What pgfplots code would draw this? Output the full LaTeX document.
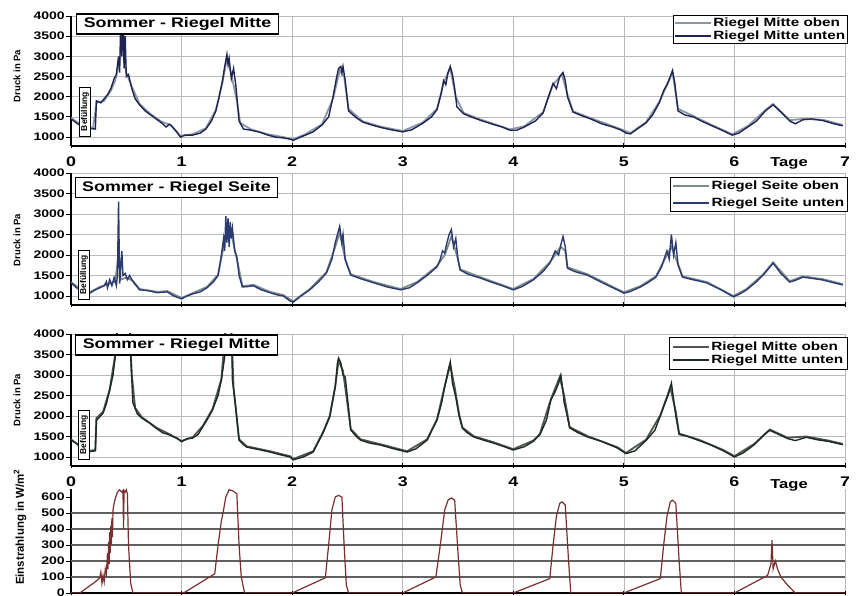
\documentclass[border=0pt]{standalone}
\usepackage{pgfplots}
\pgfplotsset{compat=1.18}
\usepackage{pgfplotstable}
\usepackage{fontspec}
\setmainfont{Liberation Sans}
\usepackage{graphicx}
\newcommand{\sx}[1]{\scalebox{1.28}[1]{#1}}
\definecolor{navy}{HTML}{1F2552}
\definecolor{gblue}{HTML}{8C95A3}
\definecolor{sblue}{HTML}{2B3A70}
\definecolor{sgray}{HTML}{7E8B88}
\definecolor{dgreen}{HTML}{1E2B22}
\definecolor{ggray}{HTML}{4F554F}
\definecolor{rbrown}{HTML}{7A2E2E}

\pgfplotstableread{
x y
0.00 1450
0.05 1350
0.10 1250
0.15 1220
0.22 1200
0.23 1900
0.27 1850
0.30 1950
0.33 2050
0.36 2200
0.39 2450
0.41 2550
0.43 3000
0.44 2600
0.45 3900
0.46 3000
0.47 4000
0.48 2700
0.49 3500
0.50 2500
0.52 2550
0.55 2200
0.58 1950
0.62 1800
0.67 1650
0.72 1550
0.77 1450
0.82 1350
0.86 1250
0.89 1320
0.91 1280
0.95 1150
0.99 1000
1.03 1050
1.10 1050
1.17 1100
1.22 1200
1.27 1400
1.31 1650
1.34 2000
1.37 2400
1.39 2750
1.41 3050
1.42 2800
1.43 2950
1.45 2450
1.47 2700
1.49 2300
1.52 1400
1.56 1200
1.63 1170
1.71 1120
1.78 1050
1.85 1000
1.92 980
1.98 950
2.01 920
2.05 970
2.12 1050
2.19 1130
2.27 1300
2.33 1500
2.37 2000
2.40 2450
2.42 2700
2.44 2750
2.45 2600
2.46 2750
2.48 2400
2.51 1650
2.58 1480
2.64 1370
2.72 1300
2.80 1240
2.90 1180
3.00 1130
3.08 1180
3.18 1340
3.26 1500
3.31 1680
3.35 2100
3.37 2400
3.39 2300
3.41 2600
3.43 2750
3.45 2550
3.47 2200
3.49 1750
3.55 1580
3.62 1500
3.70 1420
3.80 1330
3.90 1250
3.97 1170
4.03 1170
4.10 1250
4.20 1400
4.27 1600
4.33 2100
4.36 2330
4.39 2200
4.42 2500
4.45 2600
4.47 2400
4.49 2000
4.54 1620
4.62 1530
4.70 1450
4.80 1330
4.90 1250
4.97 1180
5.02 1100
5.06 1080
5.12 1200
5.20 1350
5.26 1550
5.32 1850
5.36 2150
5.39 2300
5.42 2500
5.44 2650
5.46 2350
5.49 1650
5.55 1550
5.63 1500
5.70 1400
5.78 1300
5.88 1180
5.98 1050
6.04 1100
6.12 1250
6.20 1400
6.28 1650
6.35 1800
6.42 1620
6.50 1400
6.55 1330
6.62 1430
6.70 1450
6.80 1410
6.90 1330
6.98 1280
}\mitteUntenA

\pgfplotstableread{
x y
0.00 1480
0.10 1280
0.20 1230
0.23 1850
0.30 1900
0.36 2150
0.40 2400
0.44 2900
0.47 3300
0.50 2600
0.55 2250
0.62 1820
0.72 1570
0.82 1380
0.90 1300
0.99 1030
1.10 1070
1.22 1220
1.31 1670
1.37 2350
1.41 2950
1.45 2550
1.50 1900
1.53 1350
1.63 1190
1.78 1070
1.92 1000
2.01 950
2.12 1070
2.27 1320
2.37 1950
2.43 2650
2.47 2500
2.51 1700
2.64 1390
2.80 1260
3.00 1150
3.18 1360
3.31 1700
3.37 2350
3.43 2700
3.48 2000
3.55 1600
3.70 1440
3.97 1190
4.10 1270
4.27 1620
4.36 2300
4.44 2550
4.49 2050
4.54 1640
4.70 1470
4.97 1200
5.06 1100
5.20 1370
5.32 1870
5.40 2350
5.44 2600
5.49 1700
5.63 1520
5.78 1320
5.98 1070
6.12 1270
6.28 1670
6.35 1820
6.50 1420
6.62 1450
6.80 1430
6.98 1300
}\mitteObenA

\pgfplotstableread{
x y
0.00 1320
0.05 1200
0.10 1120
0.17 1070
0.22 1150
0.26 1200
0.30 1250
0.32 1350
0.33 1200
0.35 1400
0.37 1250
0.39 1450
0.41 1250
0.42 1500
0.43 3300
0.44 1300
0.46 2100
0.47 1500
0.49 1550
0.51 1400
0.53 1500
0.56 1350
0.62 1150
0.70 1130
0.78 1080
0.87 1100
0.93 1000
1.00 930
1.05 1000
1.10 1050
1.17 1100
1.23 1200
1.29 1350
1.33 1500
1.36 2000
1.38 2400
1.39 2100
1.40 2950
1.41 2300
1.42 2900
1.43 2200
1.44 2800
1.45 2400
1.46 2650
1.48 2100
1.50 1950
1.52 1500
1.55 1220
1.60 1230
1.65 1250
1.72 1150
1.80 1080
1.86 1030
1.92 1000
1.98 880
2.01 850
2.08 1000
2.16 1150
2.24 1350
2.31 1560
2.36 1900
2.39 2300
2.41 2500
2.43 2700
2.45 2300
2.46 2500
2.48 1880
2.53 1510
2.62 1420
2.74 1320
2.86 1220
2.98 1150
3.06 1200
3.13 1320
3.22 1500
3.31 1710
3.34 1900
3.36 2100
3.38 2050
3.40 2300
3.42 2500
3.44 2620
3.46 2200
3.48 2400
3.50 1880
3.52 1630
3.60 1520
3.70 1440
3.80 1340
3.90 1250
4.00 1150
4.08 1230
4.18 1390
4.27 1600
4.33 1800
4.38 2100
4.41 2000
4.43 2250
4.45 2450
4.47 2200
4.49 1680
4.55 1600
4.67 1510
4.80 1330
4.94 1150
5.00 1070
5.05 1100
5.15 1220
5.22 1330
5.29 1460
5.34 1700
5.37 1950
5.39 2100
5.41 1900
5.43 2500
5.45 2000
5.47 2300
5.49 1760
5.53 1460
5.62 1400
5.75 1320
5.88 1150
5.99 980
6.05 1050
6.11 1150
6.20 1350
6.26 1510
6.35 1800
6.42 1550
6.50 1340
6.55 1380
6.62 1460
6.70 1430
6.80 1390
6.90 1320
6.98 1270
}\seiteUnten

\pgfplotstableread{
x y
0.00 1340
0.10 1140
0.17 1090
0.26 1220
0.35 1300
0.40 1350
0.43 2000
0.45 1400
0.50 1450
0.56 1370
0.62 1170
0.78 1100
0.87 1120
1.00 950
1.10 1070
1.23 1220
1.33 1520
1.38 2200
1.42 2600
1.46 2400
1.50 1900
1.55 1240
1.65 1270
1.80 1100
1.92 1020
2.01 870
2.16 1170
2.31 1580
2.39 2200
2.43 2550
2.48 1900
2.53 1530
2.74 1340
2.98 1170
3.13 1340
3.31 1730
3.38 2000
3.44 2450
3.50 1900
3.52 1650
3.70 1460
4.00 1170
4.18 1410
4.33 1820
4.43 2200
4.47 2100
4.49 1700
4.67 1530
4.94 1170
5.00 1090
5.15 1240
5.29 1480
5.37 1900
5.43 2200
5.49 1780
5.53 1480
5.75 1340
5.99 1000
6.11 1170
6.26 1530
6.35 1820
6.50 1360
6.62 1480
6.80 1410
6.98 1290
}\seiteOben

\pgfplotstableread{
x y
0.00 1410
0.07 1300
0.14 1120
0.22 1150
0.23 1900
0.26 1980
0.29 2070
0.32 2300
0.35 2630
0.38 3000
0.40 3440
0.42 4200
0.53 4200
0.54 3440
0.56 2320
0.60 2050
0.64 1950
0.71 1830
0.77 1700
0.83 1590
0.88 1550
0.92 1500
0.96 1460
1.00 1370
1.05 1450
1.10 1460
1.15 1550
1.19 1730
1.24 1950
1.28 2150
1.33 2500
1.36 2880
1.39 3440
1.40 4200
1.45 4200
1.46 2880
1.49 2200
1.52 1410
1.56 1300
1.59 1240
1.70 1180
1.80 1120
1.90 1050
1.98 1000
2.01 930
2.10 1000
2.19 1120
2.28 1590
2.34 1980
2.39 2710
2.41 3300
2.42 3410
2.44 3300
2.46 3000
2.48 2950
2.51 2200
2.53 1660
2.58 1500
2.62 1410
2.70 1340
2.80 1290
2.92 1200
3.04 1120
3.12 1200
3.22 1410
3.31 1900
3.35 2300
3.38 2710
3.41 3100
3.43 3320
3.45 2800
3.48 2460
3.51 2000
3.54 1700
3.58 1600
3.64 1490
3.72 1420
3.82 1340
3.92 1250
4.00 1170
4.10 1250
4.18 1380
4.24 1540
4.30 1900
4.34 2390
4.38 2600
4.41 2800
4.43 3000
4.45 2600
4.46 2320
4.48 2100
4.51 1710
4.58 1600
4.67 1490
4.80 1380
4.94 1220
5.02 1080
5.10 1150
5.20 1400
5.28 1650
5.33 2000
5.37 2300
5.40 2500
5.43 2800
5.45 2400
5.47 2000
5.50 1550
5.58 1500
5.68 1400
5.78 1300
5.90 1150
6.00 1000
6.08 1100
6.18 1300
6.27 1550
6.32 1650
6.40 1550
6.48 1450
6.55 1400
6.65 1480
6.75 1420
6.85 1380
6.98 1300
}\mitteUntenB

\pgfplotstableread{
x y
0.00 1430
0.14 1140
0.22 1170
0.23 1950
0.29 2100
0.35 2650
0.40 3500
0.42 4200
0.53 4200
0.55 3000
0.58 2200
0.64 1970
0.77 1720
0.88 1570
1.00 1390
1.10 1480
1.19 1750
1.28 2170
1.36 2900
1.40 4200
1.45 4200
1.47 2700
1.52 1430
1.59 1260
1.80 1140
1.98 1020
2.01 950
2.19 1140
2.28 1610
2.34 2000
2.39 2730
2.42 3350
2.46 3100
2.50 2300
2.53 1680
2.62 1430
2.80 1310
3.04 1140
3.22 1430
3.31 1920
3.38 2730
3.43 3250
3.47 2700
3.51 2050
3.54 1720
3.64 1510
3.82 1360
4.00 1190
4.18 1400
4.24 1560
4.34 2410
4.42 2950
4.46 2500
4.51 1730
4.67 1510
4.94 1240
5.02 1100
5.20 1420
5.33 2020
5.42 2700
5.47 2100
5.50 1570
5.68 1420
5.90 1170
6.00 1020
6.18 1320
6.32 1670
6.48 1470
6.65 1500
6.85 1400
6.98 1320
}\mitteObenB

\pgfplotstableread{
x y
0.00 0
0.08 0
0.15 35
0.22 70
0.26 95
0.27 130
0.28 60
0.29 110
0.30 70
0.31 150
0.32 120
0.33 250
0.335 150
0.34 320
0.345 180
0.35 380
0.355 250
0.36 420
0.365 300
0.37 470
0.375 350
0.38 520
0.39 560
0.40 590
0.42 630
0.44 645
0.46 630
0.47 640
0.475 400
0.48 640
0.49 630
0.50 645
0.51 620
0.52 300
0.54 60
0.56 0
1.00 0
1.03 5
1.30 120
1.33 300
1.36 450
1.38 520
1.40 600
1.43 645
1.46 640
1.50 620
1.52 300
1.54 100
1.57 0
2.00 0
2.30 95
2.33 300
2.36 520
2.39 600
2.42 610
2.45 600
2.47 300
2.49 50
2.51 0
3.00 0
3.30 100
3.34 300
3.38 520
3.41 580
3.44 594
3.47 580
3.50 250
3.52 50
3.54 0
4.00 0
4.33 90
4.36 300
4.39 480
4.42 560
4.44 570
4.47 550
4.50 200
4.52 0
5.00 0
5.33 90
5.36 300
5.39 480
5.42 570
5.44 580
5.47 560
5.50 200
5.52 0
6.00 0
6.30 110
6.33 180
6.34 330
6.35 150
6.37 200
6.39 150
6.42 100
6.48 50
6.55 0
7.00 0
}\strahlung

\pgfplotsset{
  legend image code/.code={\draw[#1] (0pt,0pt) -- (36bp,0pt);},
  panel/.style={
    scale only axis, width=774bp, xmin=0, xmax=7,
    axis x line=bottom, axis y line=left,
    axis line style={-, black, line width=1.2bp},
    xtick={0,...,7}, xticklabels={},
    grid=major, major grid style={draw=gray!55, line width=0.7bp},
    xtick align=center, ytick align=outside,
    major tick length=5bp, tick style={black, line width=0.9bp},
    yticklabel style={font=\bfseries\fontsize{11}{11}\selectfont, inner xsep=1bp},
    xticklabel style={font=\bfseries\fontsize{14}{14}\selectfont, yshift=-5bp},
    legend cell align=left,
    legend style={draw=black, line width=0.8bp, fill=white,
      font=\bfseries\fontsize{12}{12}\selectfont, anchor=north east,
      inner sep=1bp, row sep=0bp, nodes={inner sep=1.5bp}},
  },
  pressure/.style={panel, ymin=780, ymax=4000, ytick={1000,1500,...,4000},
    yticklabels={\sx{1000},\sx{1500},\sx{2000},\sx{2500},\sx{3000},\sx{3500},\sx{4000}}},
}

\begin{document}
\begin{tikzpicture}
\path[use as bounding box] (0bp,0bp) rectangle (859bp,596bp);

% Panel 1
\begin{axis}[pressure, at={(71bp,450bp)}, anchor=south west, height=130bp,
  xticklabels={\sx{0},\sx{1},\sx{2},\sx{3},\sx{4},\sx{5},\sx{6},\sx{7}},
  legend style={at={(1.004,1.008)}}]
\addplot[gblue, line width=1.8bp] table {\mitteObenA};
\addlegendentry{\sx{Riegel Mitte oben}}
\addplot[navy, line width=1.4bp] table {\mitteUntenA};
\addlegendentry{\sx{Riegel Mitte unten}}
\end{axis}

% Panel 2
\begin{axis}[pressure, at={(71bp,291bp)}, anchor=south west, height=132bp,
  legend style={at={(1.004,0.97)}, row sep=4bp, inner sep=2bp}]
\addplot[sgray, line width=1.8bp] table {\seiteOben};
\addlegendentry{\sx{Riegel Seite oben}}
\addplot[sblue, line width=1.4bp] table {\seiteUnten};
\addlegendentry{\sx{Riegel Seite unten}}
\end{axis}

% Panel 3
\begin{axis}[pressure, at={(71bp,130bp)}, anchor=south west, height=132bp,
  xticklabels={\sx{0},\sx{1},\sx{2},\sx{3},\sx{4},\sx{5},\sx{6},\sx{7}},
  legend style={at={(1.004,0.977)}, inner sep=3bp}]
\addplot[ggray, line width=1.8bp] table {\mitteObenB};
\addlegendentry{\sx{Riegel Mitte oben}}
\addplot[dgreen, line width=1.4bp] table {\mitteUntenB};
\addlegendentry{\sx{Riegel Mitte unten}}
\end{axis}

% Panel 4
\begin{axis}[panel, at={(71bp,3bp)}, anchor=south west, height=104bp,
  ymin=0, ymax=650, ytick={0,100,...,600},
  yticklabels={\sx{0},\sx{100},\sx{200},\sx{300},\sx{400},\sx{500},\sx{600}},
  ymajorgrids=false]
\pgfplotsinvokeforeach{100,200,300,400,500}{
  \draw[gray!75!black, line width=1.1bp] (axis cs:0,#1) -- (axis cs:7,#1);}
\addplot[rbrown, line width=1.2bp] table {\strahlung};
\end{axis}

% Titles
\tikzset{ttl/.style={draw=black, line width=1.1bp, fill=white, inner xsep=7bp, inner ysep=3.5bp,
  font=\bfseries\fontsize{14}{14}\selectfont}}
\node[ttl] at (177.5bp,572bp) {\sx{Sommer - Riegel Mitte}};
\node[ttl] at (176.5bp,408.5bp) {\sx{Sommer - Riegel Seite}};
\node[ttl] at (176.5bp,251bp) {\sx{Sommer - Riegel Mitte}};

% Befuellung boxes
\tikzset{bef/.style={draw=black, line width=0.9bp, fill=white, rotate=90, inner xsep=5bp, inner ysep=1.5bp,
  font=\bfseries\fontsize{8.5}{8.5}\selectfont}}
\node[bef] at (85bp,484.5bp) {Befüllung};
\node[bef] at (84bp,321bp) {Befüllung};
\node[bef] at (84bp,161bp) {Befüllung};

% y labels
\node[rotate=90, font=\bfseries\fontsize{9.5}{9.5}\selectfont] at (17bp,520bp) {Druck in Pa};
\node[rotate=90, font=\bfseries\fontsize{9.5}{9.5}\selectfont] at (17bp,356bp) {Druck in Pa};
\node[rotate=90, font=\bfseries\fontsize{9.5}{9.5}\selectfont] at (17bp,196bp) {Druck in Pa};
\node[rotate=90, font=\bfseries\fontsize{11.5}{11.5}\selectfont] at (20bp,69bp) {Einstrahlung in W/m\textsuperscript{2}};

% Tage
\node[font=\bfseries\fontsize{13}{13}\selectfont] at (789bp,433bp) {\sx{Tage}};
\node[font=\bfseries\fontsize{13}{13}\selectfont] at (789bp,111bp) {\sx{Tage}};
\end{tikzpicture}
\end{document}
